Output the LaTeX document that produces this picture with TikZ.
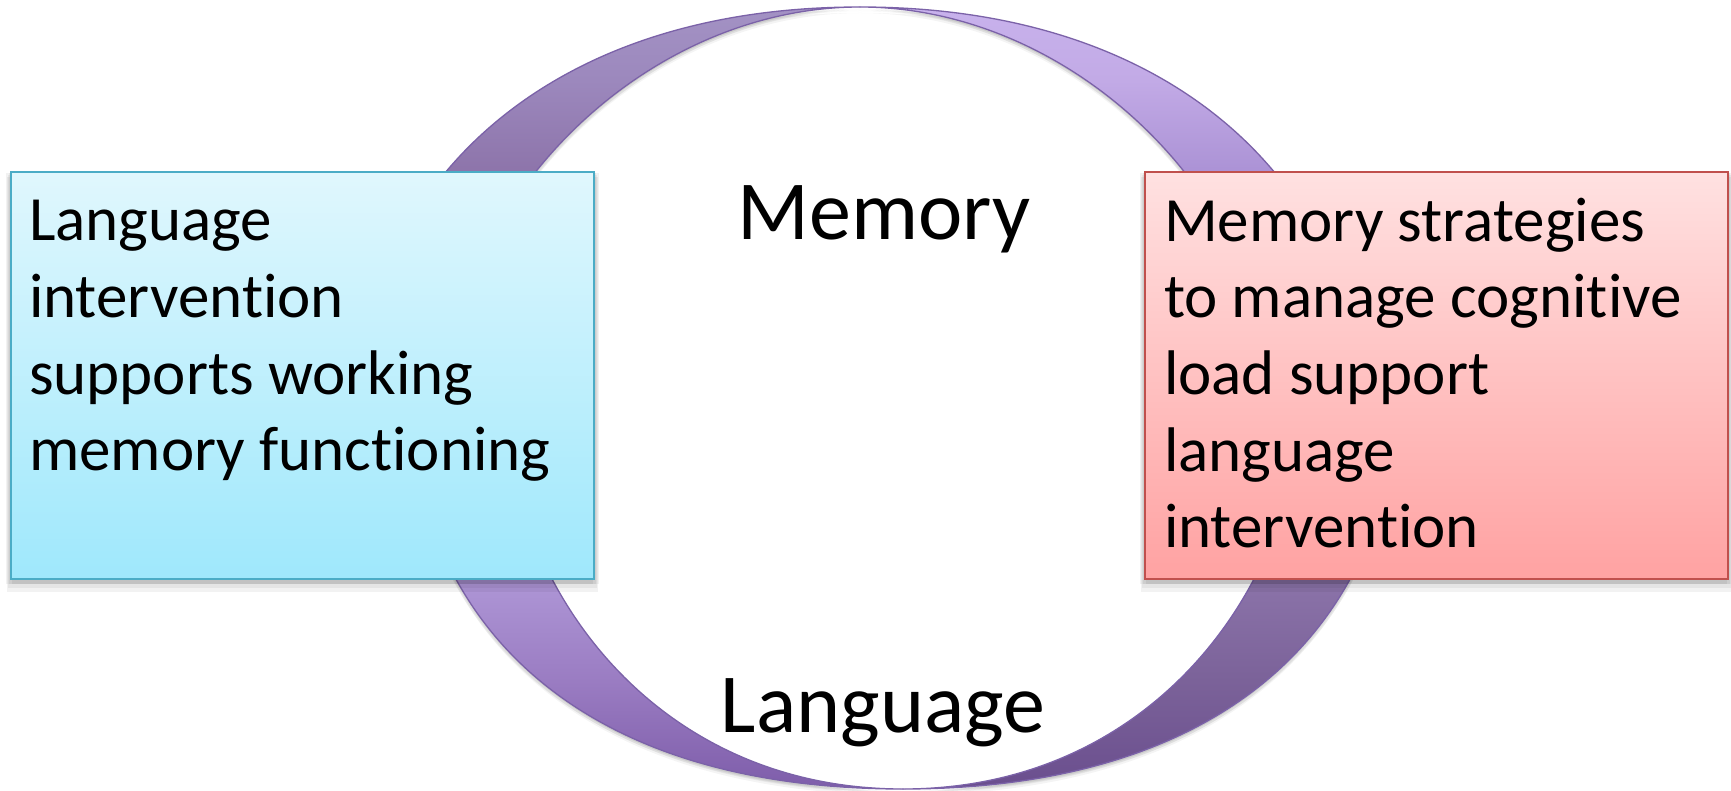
\documentclass[tikz,border=0pt]{standalone}
\usepackage{fontspec}
\setmainfont{Carlito}[RawFeature={-liga;-dlig;-clig;-calt;-rlig}]
\definecolor{lboxtop}{HTML}{E0F7FD}
\definecolor{lboxbot}{HTML}{9FE8FC}
\definecolor{lboxline}{HTML}{4BACC6}
\definecolor{rboxtop}{HTML}{FFE1E1}
\definecolor{rboxbot}{HTML}{FFA2A2}
\definecolor{rboxline}{HTML}{C0504D}
\definecolor{bandline}{HTML}{7B62A8}
\definecolor{rb0}{HTML}{6A4E8E}
\definecolor{rb1}{HTML}{7B6299}
\definecolor{rb2}{HTML}{8B73A9}
\definecolor{rb3}{HTML}{AB92D5}
\definecolor{rb4}{HTML}{C2AAE6}
\definecolor{rb5}{HTML}{C8B2EC}
\definecolor{lb0}{HTML}{7E5DAA}
\definecolor{lb1}{HTML}{9A7CC2}
\definecolor{lb2}{HTML}{AE96D6}
\definecolor{lb3}{HTML}{9E86C0}
\definecolor{lb4}{HTML}{8D74AA}
\definecolor{lb5}{HTML}{9C88BD}
\definecolor{lb6}{HTML}{A392C4}
\pgfdeclareverticalshading{rbandshade}{100bp}{color(0bp)=(rb0); color(25bp)=(rb0); color(31.9bp)=(rb1); color(38.4bp)=(rb2); color(64.4bp)=(rb3); color(70.3bp)=(rb4); color(75bp)=(rb5); color(100bp)=(rb5)}
\pgfdeclareverticalshading{lbandshade}{100bp}{color(0bp)=(lb0); color(25bp)=(lb0); color(31.9bp)=(lb1); color(38.4bp)=(lb2); color(50bp)=(lb3); color(64.4bp)=(lb4); color(70.3bp)=(lb5); color(75bp)=(lb6); color(100bp)=(lb6)}
\newcommand{\RBandPath}{(860,7) .. controls (1210,7) and (1360,223) .. (1360,400) -- (1395,400) .. controls (1395,575) and (1276,789) .. (903,789) .. controls (1160,789) and (1300,575) .. (1300,400) -- (1270,400) .. controls (1270,203.5) and (1077,7) .. (860,7) -- cycle}
\newcommand{\LBandPath}{(860,7) .. controls (510,7) and (360,223) .. (360,400) -- (411,400) .. controls (411,575) and (530,789) .. (903,789) .. controls (646,789) and (506,575) .. (506,400) -- (450,400) .. controls (450,203.5) and (643,7) .. (860,7) -- cycle}
\begin{document}
\begin{tikzpicture}[x=1pt,y=-1pt,
  bandshadow/.style={fill=black,opacity=0.045},
  bandedge/.style={draw=bandline,line width=1.3pt,line join=round},
  boxshadow/.style={fill=black,opacity=0.05},
  boxbase/.style={rectangle,inner sep=0pt,outer sep=0pt,line width=1.6pt,minimum width=583pt,minimum height=407pt},
  lboxstyle/.style={boxbase,draw=lboxline,top color=lboxtop,bottom color=lboxbot},
  rboxstyle/.style={boxbase,draw=rboxline,top color=rboxtop,bottom color=rboxbot},
  boxtxt/.style={inner sep=0pt,outer sep=0pt,anchor=base west,font=\fontsize{63}{76}\selectfont},
  bigtxt/.style={inner sep=0pt,outer sep=0pt,anchor=base,font=\fontsize{84}{100}\selectfont}]
\path[use as bounding box,fill=white] (0,0) rectangle (1731,791);
% soft shadows of the two bands
\foreach \dx/\dy in {0/2,0/4,0/6,-2/3,2/3}{
  \fill[bandshadow,shift={(\dx,\dy)}] \LBandPath;
  \fill[bandshadow,shift={(\dx,\dy)}] \RBandPath;
}
% the two crescent bands
\path[shading=lbandshade,bandedge] \LBandPath;
\path[shading=rbandshade,bandedge] \RBandPath;
% box shadows
\foreach \dx/\dy/\g in {0/3/2,0/6/3,-3/3/2,3/3/2,0/9/4}{
  \fill[boxshadow] (11+\dx-\g,172+\dy-\g) rectangle (594+\dx+\g,579+\dy+\g);
  \fill[boxshadow] (1145+\dx-\g,172+\dy-\g) rectangle (1728+\dx+\g,579+\dy+\g);
}
% boxes
\node[lboxstyle] (lbox) at (302.5,375.5) {};
\node[rboxstyle] (rbox) at (1436.5,375.5) {};
% left box text
\node[boxtxt] (l1) at (29,241) {Language};
\node[boxtxt] (l2) at (29,317.5) {intervention};
\node[boxtxt] (l3) at (29,394) {supports working};
\node[boxtxt] (l4) at (29,470.5) {memory functioning};
% right box text
\node[boxtxt] (r1) at (1164,241.5) {Memory strategies};
\node[boxtxt] (r2) at (1164,318) {to manage cognitive};
\node[boxtxt] (r3) at (1164,394.5) {load support};
\node[boxtxt] (r4) at (1164,471) {language};
\node[boxtxt] (r5) at (1164,547.5) {intervention};
% ring labels
\node[bigtxt] (mem) at (884,240) {Memory};
\node[bigtxt] (lang) at (883,732) {Language};
\end{tikzpicture}
\end{document}
